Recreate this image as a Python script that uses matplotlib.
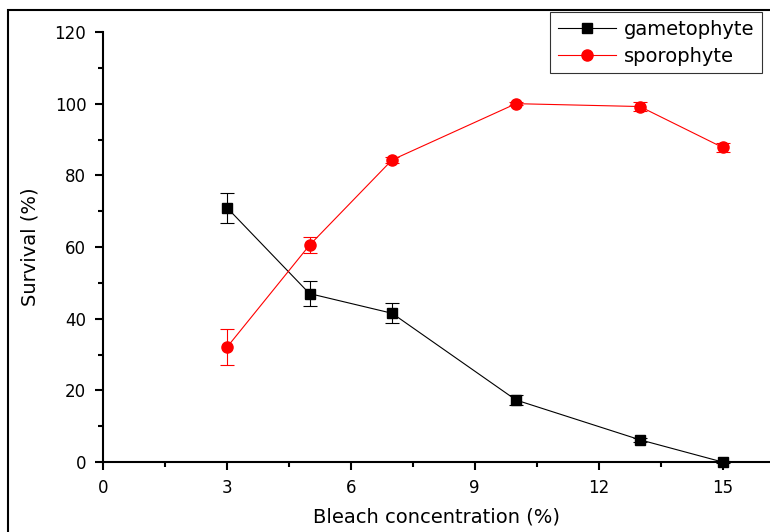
import numpy as np
import matplotlib.pyplot as plt
from matplotlib.patches import Rectangle
from matplotlib.lines import Line2D
from matplotlib.ticker import MultipleLocator

plt.rcParams['font.family'] = ['DejaVu Sans']

# bleach concentration (%)
conc = [3, 5, 7, 10, 13, 15]

# survival (%) and error bars
gam = [71.0, 47.0, 41.5, 17.3, 6.2, 0.0]
gam_err = [4.2, 3.5, 2.8, 1.3, 0.6, 0.3]
spo = [32.0, 60.5, 84.3, 100.0, 99.2, 87.8]
spo_err = [5.0, 2.3, 0.8, 0.5, 1.2, 1.2]

fig = plt.figure(figsize=(7.7, 5.32), dpi=100)
ax = fig.add_axes([103 / 770, 70 / 532, 667 / 770, 430 / 532])

ax.errorbar(conc, gam, yerr=gam_err, color='black', lw=0.8, marker='s',
            markersize=7, capsize=5, elinewidth=0.8, capthick=0.8,
            clip_on=False, zorder=3)
ax.errorbar(conc, spo, yerr=spo_err, color='red', lw=0.8, marker='o',
            markersize=8, capsize=5, elinewidth=0.8, capthick=0.8,
            clip_on=False, zorder=3)

ax.set_xlim(0, 16.15)
ax.set_ylim(0, 120)
ax.xaxis.set_major_locator(MultipleLocator(3))
ax.xaxis.set_minor_locator(MultipleLocator(1.5))
ax.yaxis.set_major_locator(MultipleLocator(20))
ax.yaxis.set_minor_locator(MultipleLocator(10))

for s in ['top', 'right']:
    ax.spines[s].set_visible(False)
for s in ['left', 'bottom']:
    ax.spines[s].set_linewidth(1.5)

ax.tick_params(which='major', direction='out', length=6, width=1.5,
               labelsize=12, pad=6)
ax.tick_params(which='minor', direction='out', length=3.5, width=1.5)

ax.set_xlabel('Bleach concentration (%)', fontsize=14, labelpad=8)
ax.set_ylabel('Survival (%)', fontsize=14, labelpad=11)

handles = [
    Line2D([], [], color='black', lw=0.8, marker='s', markersize=7),
    Line2D([], [], color='red', lw=0.8, marker='o', markersize=8),
]
leg = ax.legend(handles, ['gametophyte', 'sporophyte'], loc='upper right',
                bbox_to_anchor=(762 / 770, 1 - 12 / 532),
                bbox_transform=fig.transFigure, fontsize=14, frameon=True,
                fancybox=False, edgecolor='black', handlelength=3.0,
                borderpad=0.4, labelspacing=0.4, handletextpad=0.4,
                borderaxespad=0)
leg.get_frame().set_linewidth(0.8)

# outer frame of the original picture
fig.patches.append(Rectangle((8 / 770, -0.1), 1.2, 1.1 - 10 / 532,
                             transform=fig.transFigure, fill=False,
                             edgecolor='black', lw=1.5))

fig.savefig('out.png', dpi=100)
